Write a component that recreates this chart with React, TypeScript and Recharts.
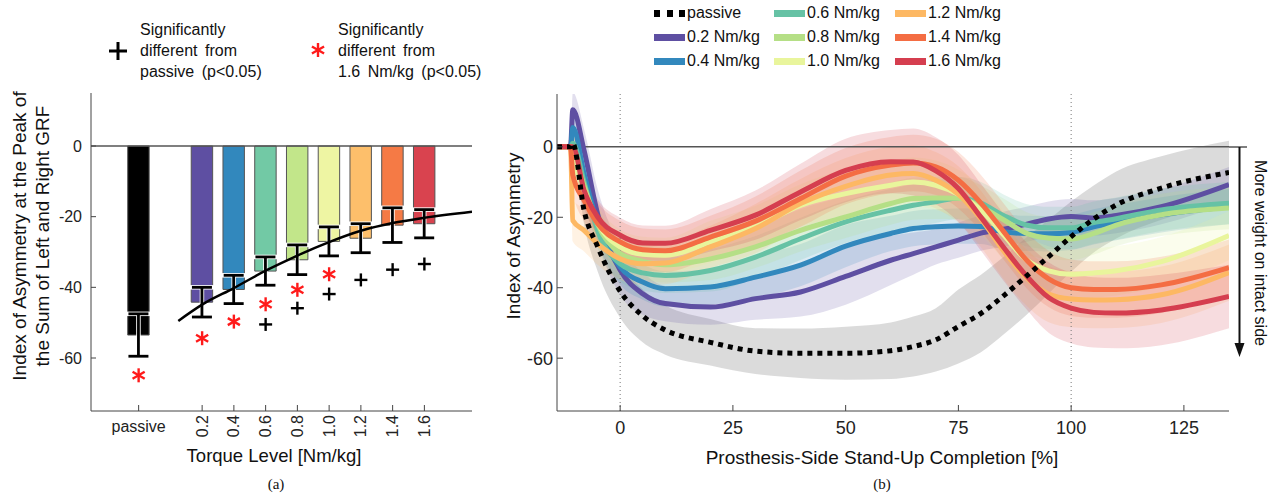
import React from 'react';
import {
  ComposedChart, Bar, Cell, ErrorBar, Line, Scatter, Area, XAxis, YAxis, ReferenceLine,
} from 'recharts';

const FONT = '"Liberation Sans", Arial, Helvetica, sans-serif';
const AXIS = '#444';

// ---------- panel (a): peak asymmetry per torque level ----------
const levels = ['passive', '0.2', '0.4', '0.6', '0.8', '1.0', '1.2', '1.4', '1.6'];
const levelPos = [-0.2, 0.2, 0.4, 0.6, 0.8, 1.0, 1.2, 1.4, 1.6];
const peakMean = [-53.5, -44.2, -40.6, -35.4, -32.2, -27.0, -26.1, -22.4, -22.0];
const peakErr = [6.0, 4.2, 4.0, 4.0, 4.2, 4.1, 4.1, 4.9, 4.0];
const barColors = ['#000000', '#5e4fa2', '#3288bd', '#72c9a5', '#c2e68a', '#eef5a3', '#fdbf6b', '#f57a45', '#d9434f'];

const fitX = [0.05, 0.2, 0.4, 0.6, 0.8, 1.0, 1.2, 1.4, 1.6, 1.9];
const fitY = [-49.5, -44.9, -40.2, -35.3, -31.0, -27.2, -24.0, -21.8, -20.3, -18.6];

const starX = [-0.2, 0.2, 0.4, 0.6, 0.8, 1.0];
const starY = [-64.9, -54.4, -49.7, -44.8, -40.7, -36.3];
const plusX = [0.6, 0.8, 1.0, 1.2, 1.4, 1.6];
const plusY = [-50.5, -45.9, -41.9, -37.9, -35.0, -33.4];

// ---------- panel (b): asymmetry over stand-up completion ----------
const pctX = [-14, -11, -10.5, -8, -5, 0, 5, 10, 20, 30, 40, 50, 60, 65, 70, 75, 80, 85, 90, 95, 100, 105, 110, 120, 135];

const meanPassive = [0, 0, 1, -18, -28.3, -41, -48, -52, -55.5, -58, -58.6, -58.6, -57.9, -56.7, -54.8, -51, -47.3, -42.3, -36.8, -31.2, -25.5, -20.5, -16.5, -11.7, -7.3];
const mean02 = [0, 0, 10.5, -1, -19, -35, -41.7, -44.5, -45.5, -43.1, -41.2, -36.8, -32.2, -30.3, -28.4, -26.5, -24.5, -23.4, -22, -20.5, -19.8, -20.2, -19.5, -17, -10.7];
const mean04 = [0, 0, 5.5, -7.6, -21.8, -34.1, -38.4, -40.3, -39.8, -37, -33.6, -28.2, -24.6, -23.2, -22.7, -22.5, -22.6, -24.1, -24.6, -24.7, -24.3, -22.7, -21.5, -19.3, -17];
const mean06 = [0, 0, 1, -10, -23.7, -33.2, -35.8, -36.5, -35.1, -31.3, -26.1, -21.3, -18, -16.6, -15.6, -14.5, -16, -19.5, -22.2, -23, -23, -21.5, -20.4, -17.9, -16];
const mean08 = [0, 0, -1, -11, -22, -30.3, -32.5, -33.5, -31.8, -28.4, -23.7, -19.9, -16.1, -14.7, -14.5, -14.6, -17, -20.7, -24.5, -25.9, -26.2, -24.6, -22.2, -19.3, -17.4];
const mean10 = [0, 0, -3, -12, -21.5, -28.4, -30.5, -30.8, -27, -22.7, -16.6, -13.3, -10.9, -10, -10.9, -13.5, -18, -25, -32, -35.2, -36.2, -35.8, -35.2, -32.6, -25.2];
const mean12 = [0, 0, -20.9, -23.7, -27.5, -31.8, -33.2, -33, -28.4, -23.2, -16.1, -11.2, -8, -7.6, -9.5, -13.5, -20.5, -29.5, -37, -41.8, -43.2, -43.5, -43.4, -42, -35.7];
const mean14 = [0, 0, -8, -15.2, -21.8, -27, -29.2, -29.5, -25.6, -21.1, -14.7, -8.3, -5.2, -4.6, -5.7, -9.5, -16, -24, -32, -37.5, -40, -40.5, -40.5, -39.2, -34.3];
const mean16 = [0, 0, 0, -12.3, -19.9, -25.1, -27.3, -27.4, -23.7, -19.4, -12.8, -6.7, -4.2, -4.3, -6.8, -11.8, -20, -28.5, -36.5, -42.8, -45.8, -47, -47.2, -46.3, -42.5];

const sdPassive = [0, 0, 1, 4, 7, 7.5, 7.5, 7, 6.6, 6.5, 7, 7.5, 8, 8.5, 9, 10.5, 11, 11, 11, 10.5, 10, 9.5, 9.5, 9, 9];
const sd02 = [0, 0, 5, 6, 7, 7, 6, 5, 5, 6, 7, 8, 7, 6, 5, 5, 5, 5, 5, 5, 5, 5, 5, 5, 5];
const sd04 = [0, 0, 4, 5, 5, 5, 5, 5, 5, 6, 6, 6, 5, 5, 5, 5, 5, 5, 5, 5, 5, 5, 5, 5, 5];
const sd06 = [0, 0, 4, 5, 5, 5, 5, 5, 6, 6, 6, 6, 6, 6, 6, 6, 6, 6, 6, 6, 6, 6, 6, 6, 6];
const sd08 = [0, 0, 4, 5, 5, 5, 5, 5, 6, 6, 6, 6, 6, 6, 6, 6, 6, 6, 6, 6, 6, 6, 6, 6, 6];
const sd10 = [0, 0, 5, 5, 5, 5, 5, 5, 6, 6, 6, 7, 7, 7, 7, 7, 7, 7, 7, 7, 7, 7, 7, 7, 7];
const sd12 = [0, 0, 6, 6, 6, 6, 6, 6, 6, 7, 7, 8, 8, 8, 8, 8, 8, 8, 8, 8, 8, 8, 8, 8, 8];
const sd14 = [0, 0, 5, 6, 6, 6, 6, 6, 6, 7, 8, 8, 8, 8, 8, 8, 8, 8, 8, 8, 8, 8, 8, 8, 8];
const sd16 = [0, 0, 3, 5, 5, 5, 5, 5, 6, 7, 8, 9, 9, 9.5, 9.5, 9.5, 9.5, 9.5, 9.5, 10, 10, 10, 10, 10, 9];

const torqueSeries = [
  { key: 't02', name: '0.2 Nm/kg', color: '#5e4fa2', mean: mean02, sd: sd02 },
  { key: 't04', name: '0.4 Nm/kg', color: '#3288bd', mean: mean04, sd: sd04 },
  { key: 't06', name: '0.6 Nm/kg', color: '#66c2a5', mean: mean06, sd: sd06 },
  { key: 't08', name: '0.8 Nm/kg', color: '#b5df86', mean: mean08, sd: sd08 },
  { key: 't10', name: '1.0 Nm/kg', color: '#e9f59c', mean: mean10, sd: sd10 },
  { key: 't12', name: '1.2 Nm/kg', color: '#fdb863', mean: mean12, sd: sd12 },
  { key: 't14', name: '1.4 Nm/kg', color: '#f46d43', mean: mean14, sd: sd14 },
  { key: 't16', name: '1.6 Nm/kg', color: '#d53e4f', mean: mean16, sd: sd16 },
];

const barRows = levels.map((name, i) => ({ x: levelPos[i], name, v: peakMean[i], err: peakErr[i] }));
const fitRows = fitX.map((x, i) => ({ x, fit: fitY[i] }));
const starRows = starX.map((x, i) => ({ x, y: starY[i] }));
const plusRows = plusX.map((x, i) => ({ x, y: plusY[i] }));

const curveRows = pctX.map((x, i) => {
  const row: any = {
    x,
    passive: meanPassive[i],
    passiveBand: [meanPassive[i] - sdPassive[i], meanPassive[i] + sdPassive[i]],
  };
  torqueSeries.forEach(s => {
    row[s.key] = s.mean[i];
    row[s.key + 'Band'] = [s.mean[i] - s.sd[i], s.mean[i] + s.sd[i]];
  });
  return row;
});

const Star = (p: any) => {
  const { cx, cy } = p;
  const r = 7;
  return (
    <g stroke="#ff1a1a" strokeWidth={2.4}>
      {[90, 30, 150].map(a => {
        const t = (a * Math.PI) / 180;
        return <line key={a} x1={cx - r * Math.cos(t)} y1={cy - r * Math.sin(t)} x2={cx + r * Math.cos(t)} y2={cy + r * Math.sin(t)} />;
      })}
    </g>
  );
};

const Plus = (p: any) => {
  const { cx, cy } = p;
  const r = 6.5;
  return (
    <g stroke="#000" strokeWidth={2.4}>
      <line x1={cx - r} y1={cy} x2={cx + r} y2={cy} />
      <line x1={cx} y1={cy - r} x2={cx} y2={cy + r} />
    </g>
  );
};

const TorqueTick = (props: any) => {
  const { x, y, payload } = props;
  const i = levelPos.indexOf(payload.value);
  const label = i >= 0 ? levels[i] : '';
  if (label === 'passive') {
    return <text x={x} y={y + 17} textAnchor="middle" fontSize={16} fontFamily={FONT} fill="#222">{label}</text>;
  }
  return (
    <text transform={`translate(${x},${y}) rotate(-90)`} textAnchor="end" dominantBaseline="central" fontSize={16} fontFamily={FONT} fill="#222">
      {label}
    </text>
  );
};

const Txt: React.FC<{ x: number; y: number; size?: number; rotate?: number; serif?: boolean; children: React.ReactNode }> = ({ x, y, size = 16, rotate = 0, serif, children }) => (
  <div
    style={{
      position: 'absolute', left: x, top: y, whiteSpace: 'nowrap', fontSize: size, color: '#111',
      fontFamily: serif ? '"Liberation Serif", "Times New Roman", serif' : FONT,
      transform: `translate(-50%, -50%) rotate(${rotate}deg)`, lineHeight: 1,
    }}
  >
    {children}
  </div>
);

const PanelA = () => (
  <div style={{ position: 'absolute', left: 0, top: 0 }}>
    <ComposedChart width={490} height={498} data={barRows} margin={{ top: 93, right: 18, bottom: 57, left: 51 }}>
      <XAxis
        dataKey="x" type="number" domain={[-0.5, 1.9]} ticks={levelPos} allowDataOverflow
        axisLine={{ stroke: AXIS }} tickLine={{ stroke: AXIS }} tickSize={-6} tickMargin={10} height={30}
        tick={<TorqueTick />} interval={0}
      />
      <YAxis
        type="number" domain={[-75, 15]} ticks={[0, -20, -40, -60]} allowDataOverflow width={40}
        axisLine={{ stroke: AXIS }} tickLine={{ stroke: AXIS }} tickSize={-5} tickMargin={14}
        tick={{ fill: '#222', fontSize: 16, fontFamily: FONT }}
      />
      <ReferenceLine y={0} stroke="#555" strokeWidth={1.5} />
      <Bar dataKey="v" barSize={26} isAnimationActive={false} stroke="#555" strokeWidth={1}>
        {barRows.map((r, i) => <Cell key={r.name} fill={barColors[i]} />)}
        <ErrorBar dataKey="err" width={12} strokeWidth={4.5} stroke="#fff" direction="y" />
        <ErrorBar dataKey="err" width={10} strokeWidth={2.8} stroke="#000" direction="y" />
      </Bar>
      <Line data={fitRows} dataKey="fit" type="monotone" stroke="#000" strokeWidth={2.5} dot={false} isAnimationActive={false} />
      <Scatter data={starRows} dataKey="y" shape={<Star />} isAnimationActive={false} />
      <Scatter data={plusRows} dataKey="y" shape={<Plus />} isAnimationActive={false} />
    </ComposedChart>
  </div>
);

const PanelB = () => (
  <div style={{ position: 'absolute', left: 480, top: 0 }}>
    <ComposedChart width={800} height={498} data={curveRows} margin={{ top: 94, right: 51, bottom: 57, left: 37 }}>
      <XAxis
        dataKey="x" type="number" domain={[-14, 135]} ticks={[0, 25, 50, 75, 100, 125]} allowDataOverflow
        axisLine={{ stroke: AXIS }} tickLine={{ stroke: AXIS }} tickSize={-6} tickMargin={16} height={30}
        tick={{ fill: '#222', fontSize: 18, fontFamily: FONT }}
      />
      <YAxis
        type="number" domain={[-75, 15]} ticks={[0, -20, -40, -60]} allowDataOverflow width={40}
        axisLine={{ stroke: AXIS }} tickLine={{ stroke: AXIS }} tickSize={-6} tickMargin={10}
        tick={{ fill: '#222', fontSize: 18, fontFamily: FONT }}
      />
      <ReferenceLine x={0} stroke="#777" strokeDasharray="1 3" />
      <ReferenceLine x={100} stroke="#777" strokeDasharray="1 3" />
      <ReferenceLine y={0} stroke="#555" strokeWidth={1.5} />
      <Area dataKey="passiveBand" type="monotone" stroke="none" fill="#999" fillOpacity={0.35} isAnimationActive={false} />
      {torqueSeries.map(s => (
        <Area key={s.key + 'b'} dataKey={s.key + 'Band'} type="monotone" stroke="none" fill={s.color} fillOpacity={0.18} isAnimationActive={false} />
      ))}
      {torqueSeries.map(s => (
        <Line key={s.key} dataKey={s.key} type="monotone" stroke={s.color} strokeWidth={5} dot={false} isAnimationActive={false} />
      ))}
      <Line dataKey="passive" type="monotone" stroke="#000" strokeWidth={5} strokeDasharray="5 5" dot={false} isAnimationActive={false} />
    </ComposedChart>
  </div>
);

const legendCols = [654, 774, 895];
const legendRows = [13, 37, 61];

const LegendB = () => {
  const entries = [{ name: 'passive', color: '' }, ...torqueSeries.map(s => ({ name: s.name, color: s.color }))];
  return (
    <>
      {entries.map((e, i) => {
        const col = Math.floor(i / 3);
        const row = i % 3;
        const x = legendCols[col];
        const y = legendRows[row];
        return (
          <div key={e.name} style={{ position: 'absolute', left: x, top: y - 10, height: 20, display: 'flex', alignItems: 'center', fontFamily: FONT, fontSize: 16, color: '#111' }}>
            {e.color ? (
              <div style={{ width: 31, height: 7, background: e.color, marginRight: 2 }} />
            ) : (
              <div style={{ width: 31, height: 7, marginRight: 2, display: 'flex', justifyContent: 'space-between' }}>
                <div style={{ width: 6, background: '#000' }} />
                <div style={{ width: 6, background: '#000' }} />
                <div style={{ width: 6, background: '#000' }} />
              </div>
            )}
            <span>{e.name}</span>
          </div>
        );
      })}
    </>
  );
};

const App: React.FC = () => (
  <div style={{ position: 'absolute', left: 0, top: 0, width: 1282, height: 498, background: '#fff', overflow: 'hidden', fontFamily: FONT }}>
    <PanelA />
    <PanelB />

    <svg width={1282} height={498} style={{ position: 'absolute', left: 0, top: 0, pointerEvents: 'none' }}>
      {/* panel (a) legend markers */}
      <g stroke="#000" strokeWidth={3}>
        <line x1={109} y1={51} x2={127} y2={51} />
        <line x1={118} y1={42} x2={118} y2={60} />
      </g>
      <Star cx={318} cy={50} />
      {/* zero line extension and arrow of panel (b) */}
      <line x1={1229} y1={147} x2={1247} y2={147} stroke="#555" strokeWidth={1.5} />
      <line x1={1239.5} y1={147} x2={1239.5} y2={346} stroke="#111" strokeWidth={2} />
      <polygon points="1239.5,357 1234.5,343 1244.5,343" fill="#111" />
    </svg>
    <div style={{ position: 'absolute', left: 140, top: 19, fontSize: 16, lineHeight: '21px', wordSpacing: 3, color: '#111' }}>
      Significantly<br />different from<br />passive (p&lt;0.05)
    </div>
    <div style={{ position: 'absolute', left: 338, top: 19, fontSize: 16, lineHeight: '21px', wordSpacing: 3, color: '#111' }}>
      Significantly<br />different from<br />1.6 Nm/kg (p&lt;0.05)
    </div>

    <LegendB />

    {/* axis titles */}
    <Txt x={19} y={236} size={19} rotate={-90}>Index of Asymmetry at the Peak of</Txt>
    <Txt x={42} y={236} size={19} rotate={-90}>the Sum of Left and Right GRF</Txt>
    <Txt x={274} y={456} size={18.5}>Torque Level [Nm/kg]</Txt>
    <Txt x={276} y={484} size={15} serif>(a)</Txt>

    <Txt x={513} y={236} size={19} rotate={-90}>Index of Asymmetry</Txt>
    <Txt x={882} y={457} size={19}>Prosthesis-Side Stand-Up Completion [%]</Txt>
    <Txt x={882} y={484} size={15} serif>(b)</Txt>
    <Txt x={1260} y={253} size={16} rotate={90}>More weight on intact side</Txt>
  </div>
);

export default App;
